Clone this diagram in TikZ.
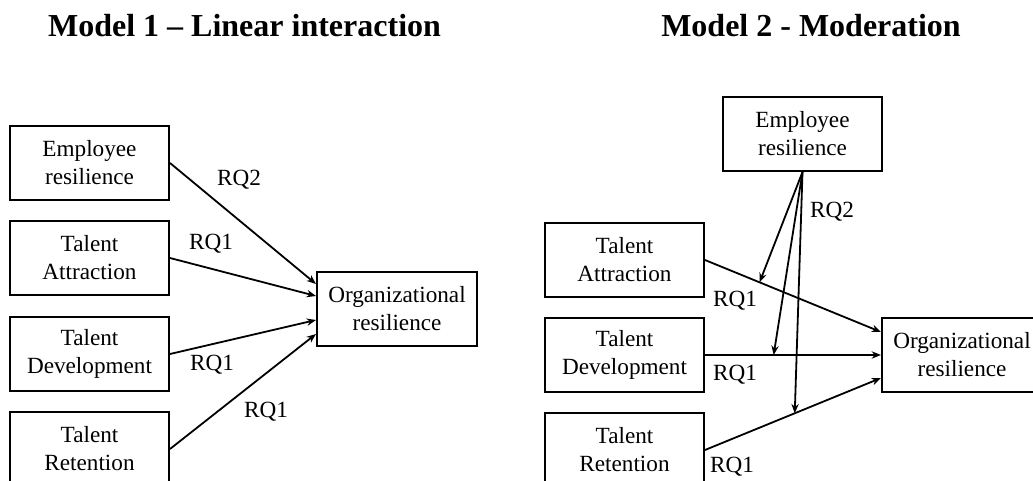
\documentclass[tikz,border=0pt]{standalone}
\usepackage{fontspec}
\setmainfont{Liberation Serif}
\usetikzlibrary{arrows.meta,calc}
\begin{document}
\begin{tikzpicture}[x=0.75pt,y=-0.75pt,
  boxnode/.style={draw, line width=1.5pt, minimum width=119.25pt, minimum height=55.5pt,
    inner sep=0pt, align=center, font=\fontsize{17.4}{21}\selectfont},
  orgnode/.style={boxnode, minimum width=120pt},
  rqlabel/.style={inner sep=0pt, font=\fontsize{17.4}{21}\selectfont},
  heading/.style={anchor=base, inner sep=0pt, font=\fontsize{24}{29}\selectfont\bfseries},
  arr/.style={line width=1.35pt, -{Stealth[length=7pt,width=5.5pt]}}]
\useasboundingbox (0,0) rectangle (1033,481);
\clip (0,0) rectangle (1033,481);
\fill[white] (0,0) rectangle (1033,481);

% headings
\node[heading] (h1) at (244.5,37) {Model 1 \textendash\ Linear interaction};
\node[heading] (h2) at (811,37) {Model 2 - Moderation};

% Model 1: linear interaction
\node[boxnode] (e1) at (89.5,163) {Employee\\resilience};
\node[boxnode] (a1) at (89.5,258) {Talent\\Attraction};
\node[boxnode] (d1) at (89.5,354) {Talent\\Development};
\node[boxnode] (r1) at (89.5,449) {Talent\\Retention};
\node[orgnode] (o1) at (397,309) {Organizational\\resilience};

\draw[arr] (e1.east) -- ($(o1.west)+(0,-25)$);
\draw[arr] (a1.east) -- ($(o1.west)+(0,-13)$);
\draw[arr] (d1.east) -- ($(o1.west)+(0,11)$);
\draw[arr] (r1.east) -- ($(o1.west)+(0,25)$);

\node[rqlabel] (q1) at (239,180) {RQ2};
\node[rqlabel] (q2) at (211,244) {RQ1};
\node[rqlabel] (q3) at (212,365) {RQ1};
\node[rqlabel] (q4) at (266,412) {RQ1};

% Model 2: moderation
\node[boxnode] (e2) at (802.5,134) {Employee\\resilience};
\node[boxnode] (a2) at (624.5,260) {Talent\\Attraction};
\node[boxnode] (d2) at (624.5,355) {Talent\\Development};
\node[boxnode] (r2) at (624.5,450) {Talent\\Retention};
\node[orgnode] (o2) at (962,355) {Organizational\\resilience};

\draw[arr] (a2.east) -- coordinate[pos=0.31] (m1) ($(o2.west)+(0,-23)$);
\draw[arr] (d2.east) -- coordinate[pos=0.39] (m2) (o2.west);
\draw[arr] (r2.east) -- coordinate[pos=0.51] (m3) ($(o2.west)+(0,23)$);

\draw[arr] (e2.south) -- (m1);
\draw[arr] (e2.south) -- (m2);
\draw[arr] (e2.south) -- (m3);

\node[rqlabel] (q5) at (832,212) {RQ2};
\node[rqlabel] (q6) at (735,301) {RQ1};
\node[rqlabel] (q7) at (735,375) {RQ1};
\node[rqlabel] (q8) at (732,467) {RQ1};
\end{tikzpicture}
\end{document}
